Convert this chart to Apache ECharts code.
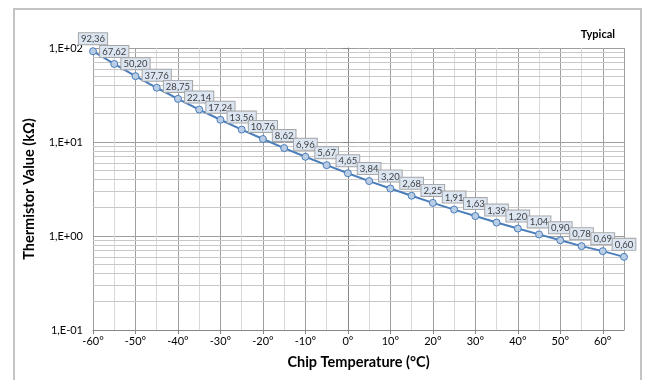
<!DOCTYPE html>
<html>
<head>
<meta charset="utf-8">
<script src="https://cdn.jsdelivr.net/npm/echarts@6/dist/echarts.min.js"></script>
<style>html,body{margin:0;padding:0;background:#fff;}#c{width:648px;height:380px;}</style>
</head>
<body>
<div id="c"></div>
<script>
const temperatures = [-60,-55,-50,-45,-40,-35,-30,-25,-20,-15,-10,-5,0,5,10,15,20,25,30,35,40,45,50,55,60,65];
const resistance = [92.36,67.62,50.20,37.76,28.75,22.14,17.24,13.56,10.76,8.62,6.96,5.67,4.65,3.84,3.20,2.68,2.25,1.91,1.63,1.39,1.20,1.04,0.90,0.78,0.69,0.60];
const minorGridValues = [0.2,0.3,0.4,0.5,0.6,0.7,0.8,0.9,2,3,4,5,6,7,8,9,20,30,40,50,60,70,80,90];
const xTitle = 'Chip Temperature (°C)';
const yTitle = 'Thermistor Value (kΩ)';
const noteText = 'Typical';

const FONT = 'Lato, "Open Sans", sans-serif';
const chart = echarts.init(document.getElementById('c'), null, {renderer: 'canvas'});

function sciLabel(v) {
  const e = Math.round(Math.log10(v));
  const s = e < 0 ? '-' : '+';
  const a = Math.abs(e);
  return '1,E' + s + (a < 10 ? '0' + a : '' + a);
}

chart.setOption({
  animation: false,
  backgroundColor: '#ffffff',
  textStyle: {fontFamily: FONT},
  grid: {left: 93, right: 24, top: 48, bottom: 50, containLabel: false},
  graphic: [
    {type: 'rect', shape: {x: 14, y: 9, width: 627, height: 390}, style: {fill: 'none', stroke: '#c4c4c4', lineWidth: 2}, z: -10, silent: true},
    {type: 'text', right: 33, top: 29, style: {text: noteText, font: 'bold 11px ' + FONT, fill: '#000000'}}
  ],
  xAxis: {
    type: 'value', min: -60, max: 65, interval: 10,
    name: xTitle, nameLocation: 'middle', nameGap: 25,
    nameTextStyle: {fontFamily: FONT, fontWeight: 'bold', fontSize: 14.5, color: '#000'},
    axisLine: {show: true, lineStyle: {color: '#868686', width: 1}},
    axisTick: {show: true, length: 4, lineStyle: {color: '#868686'}},
    axisLabel: {formatter: v => v + '°', showMaxLabel: false, fontSize: 11, color: '#000', margin: 6, fontFamily: FONT},
    splitLine: {show: true, lineStyle: {color: '#9e9e9e', width: 1}},
    minorTick: {show: false, splitNumber: 2},
    minorSplitLine: {show: true, lineStyle: {color: '#d9d9d9', width: 1}}
  },
  yAxis: {
    type: 'log', logBase: 10, min: 0.1, max: 100,
    name: yTitle, nameLocation: 'middle', nameGap: 56, nameRotate: 90,
    nameTextStyle: {fontFamily: FONT, fontWeight: 'bold', fontSize: 14.5, color: '#000'},
    axisLine: {show: true, lineStyle: {color: '#868686', width: 1}},
    axisTick: {show: true, length: 5, lineStyle: {color: '#868686'}},
    axisLabel: {formatter: sciLabel, fontSize: 11, color: '#000', margin: 10, fontFamily: FONT},
    splitLine: {show: true, lineStyle: {color: '#9e9e9e', width: 1}}
  },
  series: [
    {
      type: 'line', data: [], z: 1, silent: true,
      markLine: {
        silent: true, symbol: ['none', 'none'], animation: false,
        label: {show: false},
        lineStyle: {color: '#c8c8c8', width: 1, type: 'solid'},
        data: minorGridValues.map(v => ({yAxis: v}))
      }
    },
    {
      type: 'line', z: 5,
      data: temperatures.map((t, i) => [t, resistance[i]]),
      symbol: 'circle', symbolSize: 7, showAllSymbol: true,
      lineStyle: {color: '#4a7ebb', width: 2},
      itemStyle: {color: '#b9cde5', borderColor: '#4a7ebb', borderWidth: 1},
      label: {
        show: true, position: 'top', distance: 3,
        formatter: p => p.value[1].toFixed(2).replace('.', ','),
        fontSize: 9.5, color: '#404040', fontFamily: FONT,
        backgroundColor: '#dce6f2', borderColor: '#a6a6a6', borderWidth: 1,
        padding: [1, 2, 0, 2]
      }
    }
  ]
});
</script>
</body>
</html>
